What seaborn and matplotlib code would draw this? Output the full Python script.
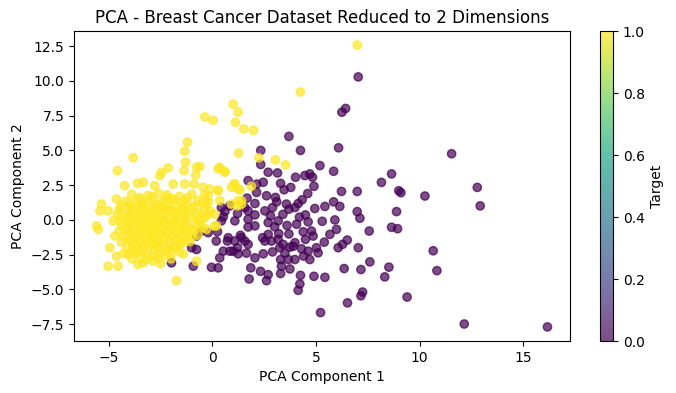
import numpy as np
import pandas as pd
import matplotlib
matplotlib.use("Agg")
import matplotlib.pyplot as plt
import seaborn as sns

# malignant (target 0) points
mal_x = [7.04, 6.43, 6.25, 3.69, 2.33, 4.25, 6.09,
         11.55, 8.65, 8.16, 12.79, 9.0, 9.1, 10.26, 12.93, 8.89, 8.65, 8.94,
         10.66, 8.52, 8.32, 10.84, 9.4, 12.16, 16.18,
         2.33, 2.69, 3.14, 5.19, 5.85, 4.01, 4.46, 4.70, 4.83, 1.72, 2.45, 3.29,
         3.78, 3.46, 4.90, 2.14, 6.23, 6.99, 1.67, 2.05, 2.13, 2.61, 3.04, 2.90,
         2.53, 3.57, 3.69, 4.14, 4.33, 3.98, 4.49, 4.94, 5.43, 5.85, 6.15, 6.99,
         7.12, 1.72, 1.21, 0.60, 0.52, 0.43, 1.72, 2.05, 2.69, 3.17, 2.05, 1.72,
         1.08, 0.24, -0.21, 4.06, 4.62, 5.30, 5.91, 5.99, 5.67, 4.78, 4.38, 4.49,
         4.86, 2.69, 3.20, 3.69, 1.35, 1.08, 1.56, 7.57, 0.18, 0.72, 1.21, 0.84,
         1.24, 1.64, 2.05, 2.45, 2.85, 3.17, 3.25, 3.41, 3.74, 3.98, 4.30, 4.62,
         5.02, 5.10, 4.70, 3.98, 3.66, 3.29, 6.07, 6.28, 6.51, 7.04, 2.53, 2.42,
         0.35, 0.27, -0.05, 1.85, 2.32, 2.69, 2.61, 1.77, 3.29, 3.33, 3.74, 4.25,
         4.90, 5.43, 6.36, 7.17, 7.60, 4.22, 4.14, 7.25, 7.17, 6.52, 5.22,
         -0.53, -0.77, -1.01, -0.77, -0.93, -1.98, 1.56, 0.84, 0.43, 1.40, 0.76,
         1.72, 1.00, 0.52,
         3.0, 3.6, 2.8, 3.4, 4.2, 3.9, 2.9, 4.4, 3.5, 3.1, 4.6, 5.4]
mal_y = [10.29, 8.02, 7.75, 6.01, 5.0, 5.0, 5.19,
         4.76, 3.31, 2.7, 2.34, 2.1, 1.96, 1.72, 1.01, 0.6, -0.53, -0.63,
         -2.22, -3.4, -4.1, -3.65, -5.55, -7.49, -7.7,
         3.99, 3.43, 3.38, 3.91, 3.50, 3.07, 3.19, 3.31, 3.07, 2.83, 2.71, 2.63,
         2.34, 2.17, 2.42, 2.58, 2.05, 2.05, 1.57, 1.18, 1.98, 1.74, 1.62, 0.89,
         0.65, 1.14, 0.77, 1.18, 1.45, 0.89, 0.36, 0.82, 0.97, 1.30, 0.97, 0.60,
         0.12, 0.65, 0.46, 0.60, 0.22, -0.07, 0.05, 0.36, -0.19, -0.07, -0.43, -0.51,
         -0.07, -0.85, -0.92, -0.31, -0.14, -0.10, 0.0, -0.68, -1.04, -0.80, -0.85, -1.40,
         -1.16, -1.04, -0.99, -1.01, -1.11, -1.52, -1.52, -0.80, -1.52, -1.52, -2.00, -2.25,
         -2.44, -2.39, -2.73, -2.44, -1.52, -1.40, -2.00, -1.76, -1.96, -1.64, -2.08, -2.25,
         -2.00, -2.37, -2.85, -2.85, -2.85, -2.85, -2.00, -1.76, -1.45, -2.00, -1.52, -1.28,
         -2.73, -3.45, -3.41, -3.45, -3.70, -3.94, -4.37, -4.25, -3.86, -3.33, -3.53, -3.99,
         -4.06, -4.13, -3.50, -3.57, -3.02, -4.61, -5.07, -5.19, -5.46, -5.97, -6.67,
         -0.80, -1.16, -2.00, -2.13, -3.33, -3.09, 0.89, 1.01, 0.89, -1.28, -1.28,
         -1.76, -2.25, -2.25,
         -0.5, -0.4, 0.3, 0.4, 0.2, -1.9, -2.3, -2.6, -2.4, 1.3, 1.9, -1.6]

# benign (target 1) points
ben_x = [7.0, 4.25, 1.0, 1.24, -0.37, 0.03, 1.11, 1.51, 1.98, -1.21, -1.34, 1.26,
         -3.83, -4.59, -2.14, -1.30, -0.77, -0.61, -0.81, -1.37, 0.35, 0.60, -2.46,
         -2.54, -4.24, -3.62, -3.35, -2.79, -1.90, -1.34, -0.89, -0.45, -0.13, 0.27,
         1.05, 1.24, -4.64, -5.36, -5.44, -5.04, -5.60, -5.52, -4.80, -4.72, -4.96,
         -4.64, -5.04, -4.56, -4.07, -3.35, -2.87, -1.74, -0.77, -0.29, 0.19, 0.92,
         1.24, 1.40, 2.24, 3.04, 3.53, 0.27, 0.60, 1.08, 1.32, 1.88, 0.92, -0.21,
         0.27, 0.35, 1.21, 1.40, 0.11, -0.37, 0.11, -0.45,
         -3.9, -3.1, -2.6, -2.2, -1.6, -1.0, -0.4,
         -4.2, -3.6, -3.0, -2.4, -1.9, -1.3, -0.7, -0.2,
         -4.4, -3.8, -3.3, -2.8, -2.3, -1.8, -1.4, -0.9, -0.3,
         -4.1, -3.6, -3.2, -2.7, -2.2, -1.7, -1.2, -0.6, -0.1,
         -4.3, -3.9, -3.4, -3.0, -2.6, -2.1, -1.6, -1.1, -0.5,
         -4.0, -3.6, -3.1, -2.7, -2.3, -1.9, -1.4, -0.8,
         -4.2, -3.7, -3.3, -2.9, -2.4, -2.0, -1.5, -1.0,
         -3.9, -3.5, -3.0, -2.6, -2.2, -1.7, -1.2, -0.7,
         -4.1, -3.6, -3.2, -2.8, -2.3, -1.8, -1.3,
         -3.8, -3.3, -2.9, -2.4, -1.9, -1.5,
         -3.9, -3.4, -2.8, -2.2, -1.6,
         -3.5, -2.9, -2.3,
         -2.9, -2.4, -2.0, -3.2, -2.6, -1.8, -3.4, -2.2, -1.4, -2.8,
         -3.5, -2.9, -2.0, -1.2,
         -4.0, -3.4, -2.6, -2.1, -1.5, -0.5,
         -4.5, -3.9, -3.4, -3.0, -2.5, -2.0, -1.5, -1.0, -0.4,
         -4.6, -4.0, -3.5, -3.1, -2.4, -1.9, -1.4, -0.8, -0.2,
         -4.5, -4.1, -3.7, -3.3, -2.8, -2.4, -1.8, -1.3, -0.7,
         -4.4, -3.9, -3.4, -2.9, -2.5, -2.1, -1.7, -1.2, -0.6,
         -4.5, -4.0, -3.5, -3.1, -2.7, -2.2, -1.8, -1.3, -0.9,
         -4.3, -3.8, -3.3, -2.9, -2.4, -2.0, -1.5, -1.0,
         -4.4, -3.9, -3.5, -3.0, -2.6, -2.1, -1.6, -1.1,
         -4.1, -3.6, -3.1, -2.6, -2.1, -1.7,
         -4.3, -3.7, -3.2, -2.6, -2.0, -1.4,
         -3.9, -3.2, -2.6, -2.0,
         -3.6, -2.5]
ben_y = [12.58, 9.2, 8.33, 7.75, 7.41, 7.17, 7.03, 6.54, 6.45, 5.60, 4.95, 4.81,
         4.47, 3.55, 3.74, 4.15, 3.79, 3.84, 3.24, 3.55, 3.79, 3.43, 3.43,
         3.19, 2.46, 2.63, 2.71, 2.46, 2.58, 2.58, 2.58, 2.34, 2.22, 2.15,
         2.58, 2.22, 1.50, 1.14, 0.65, 0.65, -0.43, -0.68, -0.07, -1.16, -2.00,
         -2.61, -3.33, -3.33, -2.49, -3.09, -2.97, -4.37, -2.97, -0.68, -0.43, 1.14,
         1.38, 1.14, 4.47, 4.32, 3.96, 3.67, 3.48, 2.58, 2.15, 2.42, 2.34, 1.74,
         2.10, 1.38, 1.01, 1.38, 0.41, 0.17, -0.43, -0.56,
         1.85, 1.75, 1.9, 1.8, 1.7, 1.85, 1.75,
         1.35, 1.45, 1.4, 1.3, 1.45, 1.35, 1.4, 1.3,
         1.0, 0.95, 1.05, 1.0, 0.9, 1.05, 0.95, 1.0, 1.1,
         0.6, 0.65, 0.55, 0.6, 0.7, 0.55, 0.6, 0.5, 0.65,
         0.2, 0.25, 0.15, 0.2, 0.3, 0.15, 0.2, 0.25, 0.1,
         -0.2, -0.15, -0.25, -0.2, -0.1, -0.25, -0.2, -0.3,
         -0.6, -0.55, -0.65, -0.6, -0.5, -0.65, -0.6, -0.7,
         -1.0, -0.95, -1.05, -1.0, -0.9, -1.05, -1.0, -1.1,
         -1.4, -1.35, -1.45, -1.4, -1.3, -1.45, -1.5,
         -1.8, -1.85, -1.75, -1.8, -1.9, -1.7,
         -2.2, -2.25, -2.15, -2.2, -2.3,
         -2.6, -2.65, -2.55,
         0.4, 0.8, -0.1, -0.4, -0.9, 0.5, 1.2, 1.6, -0.5, -1.6,
         1.6, 1.65, 1.55, 1.6,
         1.2, 1.25, 1.15, 1.2, 1.25, 1.2,
         0.8, 0.85, 0.75, 0.8, 0.85, 0.75, 0.8, 0.85, 0.8,
         0.4, 0.35, 0.45, 0.4, 0.35, 0.45, 0.4, 0.35, 0.4,
         0.0, 0.05, -0.05, 0.0, 0.05, -0.05, 0.0, 0.05, 0.0,
         -0.4, -0.35, -0.45, -0.4, -0.35, -0.45, -0.4, -0.35, -0.4,
         -0.8, -0.75, -0.85, -0.8, -0.75, -0.85, -0.8, -0.75, -0.8,
         -1.2, -1.25, -1.15, -1.2, -1.25, -1.15, -1.2, -1.25,
         -1.6, -1.55, -1.65, -1.6, -1.55, -1.65, -1.6, -1.55,
         -2.0, -2.05, -1.95, -2.0, -2.05, -1.95,
         -2.4, -2.35, -2.45, -2.4, -2.35, -2.45,
         -2.8, -2.85, -2.75, -2.8,
         -3.2, -3.15]

df = pd.DataFrame({
    "pc1": mal_x + ben_x,
    "pc2": mal_y + ben_y,
    "target": [0] * len(mal_x) + [1] * len(ben_x),
})

fig = plt.figure(figsize=(6.76, 3.93), dpi=100)
ax = fig.add_axes([0.1095, 0.1323, 0.7337, 0.7888])
cax = fig.add_axes([0.8876, 0.1323, 0.0192, 0.7888])

sns.scatterplot(data=df, x="pc1", y="pc2", hue="target", palette="viridis",
                hue_norm=(0, 1), alpha=0.7, s=36, edgecolor="face",
                linewidth=1.0, legend=False, ax=ax)

ax.set_title("PCA - Breast Cancer Dataset Reduced to 2 Dimensions", fontsize=12)
ax.set_xlabel("PCA Component 1")
ax.set_ylabel("PCA Component 2")

sm = plt.cm.ScalarMappable(norm=plt.Normalize(0, 1), cmap="viridis")
cbar = fig.colorbar(sm, cax=cax, alpha=0.7)
cbar.set_label("Target")
cbar.outline.set_linewidth(0.8)

fig.savefig("out.png", dpi=100)
